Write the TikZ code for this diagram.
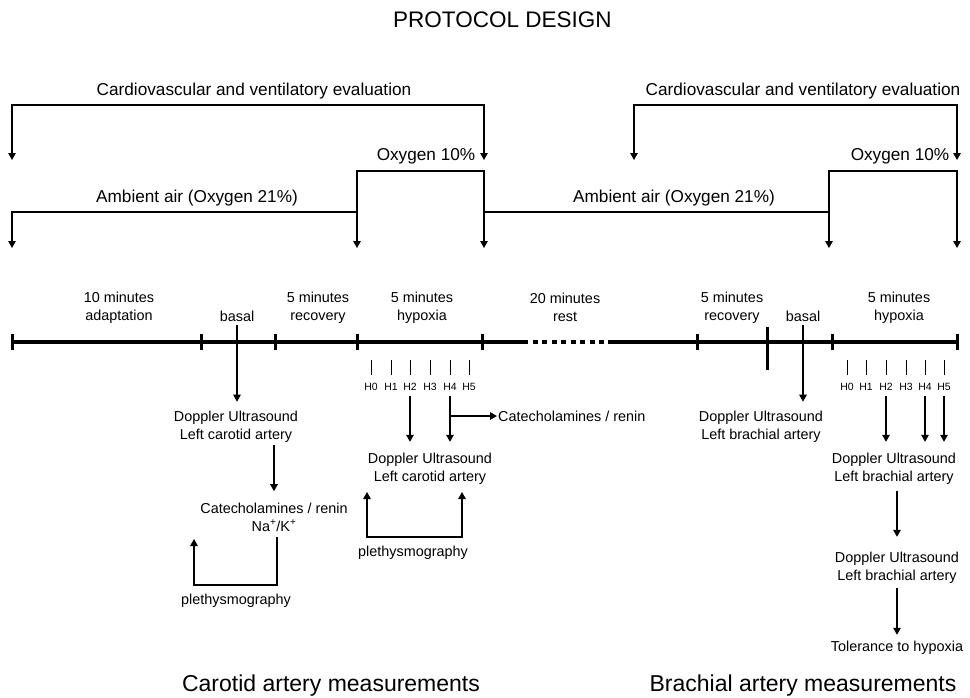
\documentclass[tikz,border=0pt]{standalone}
\usepackage{fontspec}
\setmainfont{Liberation Sans}
\usetikzlibrary{arrows.meta}
\begin{document}
\begin{tikzpicture}[x=1pt,y=-1pt,
  lbl/.style={inner sep=0pt, align=center, font=\fontsize{14.4}{18}\selectfont},
  big/.style={inner sep=0pt, font=\fontsize{17.2}{20}\selectfont},
  hl/.style={inner sep=0pt, font=\fontsize{10.5}{12}\selectfont},
  conn/.style={line width=1.2pt, line join=miter},
  arr/.style={conn, -{Triangle[width=7.5pt,length=7pt]}},
  arrboth/.style={conn, {Triangle[width=7.5pt,length=7pt]}-{Triangle[width=7.5pt,length=7pt]}},
  axis/.style={line width=4pt},
  tickmark/.style={line width=3pt},
  htick/.style={line width=0.9pt}]
\useasboundingbox (0,0) rectangle (970,697);

% title
\node[inner sep=0pt, anchor=west, font=\fontsize{22.5}{26}\selectfont] (title) at (393,20) {PROTOCOL DESIGN};

% top evaluation brackets
\node[big] (cv1) at (254,91) {Cardiovascular and ventilatory evaluation};
\node[big] (cv2) at (803,91) {Cardiovascular and ventilatory evaluation};
\coordinate (cv1L) at (12,160); \coordinate (cv1R) at (484,160);
\coordinate (cv2L) at (634,160); \coordinate (cv2R) at (957,160);
\draw[arrboth] (cv1L) -- ++(0,-55) -| (cv1R);
\draw[arrboth] (cv2L) -- ++(0,-55) -| (cv2R);

% oxygen step lines
\node[big] (ox1) at (426,156) {Oxygen 10\%};
\node[big] (ox2) at (900,156) {Oxygen 10\%};
\node[big] (amb1) at (197,198) {Ambient air (Oxygen 21\%)};
\node[big] (amb2) at (674,198) {Ambient air (Oxygen 21\%)};
\coordinate (s1a) at (12,248); \coordinate (s1b) at (357,248); \coordinate (s1c) at (484,248);
\coordinate (s2b) at (829,248); \coordinate (s2c) at (957,248);
\draw[arrboth] (s1a) -- ++(0,-36) -- ++(345,0) -- ++(0,-41) -- ++(127,0) -- (s1c);
\draw[arr] ([yshift=36pt]s1b) -- (s1b);
\draw[arr] ([yshift=36pt]s1c) -- ++(345,0) -- ++(0,-41) -- ++(128,0) -- (s2c);
\draw[arr] ([yshift=36pt]s2b) -- (s2b);

% timeline
\coordinate (t0) at (12,342); \coordinate (t1) at (201,342); \coordinate (t2) at (275,342);
\coordinate (t3) at (357,342); \coordinate (t4) at (482,342); \coordinate (d1) at (523,342);
\coordinate (d2) at (608,342); \coordinate (t5) at (697,342); \coordinate (t6) at (767,342);
\coordinate (t7) at (832,342); \coordinate (t8) at (957,342);
\draw[axis] (t0) -- (d1);
\draw[axis, dash pattern=on 5pt off 4.5pt] (d1) -- (d2);
\draw[axis] (d2) -- (t8);
\foreach \t in {t0,t1,t2,t3,t4,t5,t7,t8}
  \draw[tickmark] ([yshift=8pt]\t) -- ([yshift=-8pt]\t);
\draw[tickmark] ([yshift=15pt]t6) -- ([yshift=-28pt]t6);

% period labels
\node[lbl] (p1) at (119,308) {10 minutes\\adaptation};
\node[lbl] (basal1) at (237,316) {basal};
\node[lbl] (p3) at (318,308) {5 minutes\\recovery};
\node[lbl] (p4) at (422,308) {5 minutes\\hypoxia};
\node[lbl] (p5) at (565,307) {20 minutes\\rest};
\node[lbl] (p6) at (732,308) {5 minutes\\recovery};
\node[lbl] (basal2) at (803,316) {basal};
\node[lbl] (p7) at (899,308) {5 minutes\\hypoxia};

% H ticks
\foreach \x [count=\i from 0] in {371,391,410,430,450,469} {
  \draw[htick] (\x,360) -- (\x,375);
  \node[hl] (hA\i) at (\x,387) {H\i};
}
\foreach \x [count=\i from 0] in {847,866,886,906,925,944} {
  \draw[htick] (\x,360) -- (\x,375);
  \node[hl] (hB\i) at (\x,387) {H\i};
}

% carotid branch
\node[lbl] (dop1) at (236,427) {Doppler Ultrasound\\Left carotid artery};
\node[lbl] (cat1) at (274,517) {Catecholamines / renin\\Na\textsuperscript{+}/K\textsuperscript{+}};
\node[lbl] (pleth1) at (236,601) {plethysmography};
\node[lbl] (dop2) at (430,469) {Doppler Ultrasound\\Left carotid artery};
\node[lbl, anchor=west] (cat2) at (498,416) {Catecholamines / renin};
\node[lbl] (pleth2) at (413,553) {plethysmography};

\draw[arr, shorten <=4pt, shorten >=9.4pt] (basal1.south) -- (basal1.south |- dop1.north);
\draw[arr, shorten <=2.4pt, shorten >=11.3pt] (dop1.south -| cat1.north) -- (cat1.north);
\coordinate (pl1s) at (277,537); \coordinate (pl1e) at (194,539);
\draw[arr] (pl1s) -- ++(0,48) -| (pl1e);

\draw[arr, shorten <=5pt, shorten >=11.3pt] (hA2.south) -- (hA2.south |- dop2.north);
\draw[arr, shorten <=5pt, shorten >=11.3pt] (hA4.south) -- (hA4.south |- dop2.north);
\draw[arr, shorten >=1pt] (hA4.south |- cat2.west) -- (cat2.west);
\coordinate (pl2a) at (367,492); \coordinate (pl2b) at (462,492);
\draw[arrboth] (pl2a) -- ++(0,45) -- ++(95,0) -- (pl2b);

% brachial branch
\node[lbl] (dop3) at (761,427) {Doppler Ultrasound\\Left brachial artery};
\node[lbl] (dop4) at (894,469) {Doppler Ultrasound\\Left brachial artery};
\node[lbl] (dop5) at (897,568) {Doppler Ultrasound\\Left brachial artery};
\node[lbl] (tol) at (897,648) {Tolerance to hypoxia};

\draw[arr, shorten <=4pt, shorten >=9.4pt] (basal2.south) -- (basal2.south |- dop3.north);
\foreach \h in {2,4,5}
  \draw[arr, shorten <=5pt, shorten >=11.3pt] (hB\h.south) -- (hB\h.south |- dop4.north);
\draw[arr, shorten <=6.3pt, shorten >=15.3pt] (dop4.south -| dop5.north) -- (dop5.north);
\draw[arr, shorten <=4.3pt, shorten >=6.3pt] (dop5.south) -- (tol.north);

% bottom titles
\node[inner sep=0pt, font=\fontsize{23}{26}\selectfont] (cm) at (331,686) {Carotid artery measurements};
\node[inner sep=0pt, font=\fontsize{23}{26}\selectfont] (bm) at (803,686) {Brachial artery measurements};
\end{tikzpicture}
\end{document}
